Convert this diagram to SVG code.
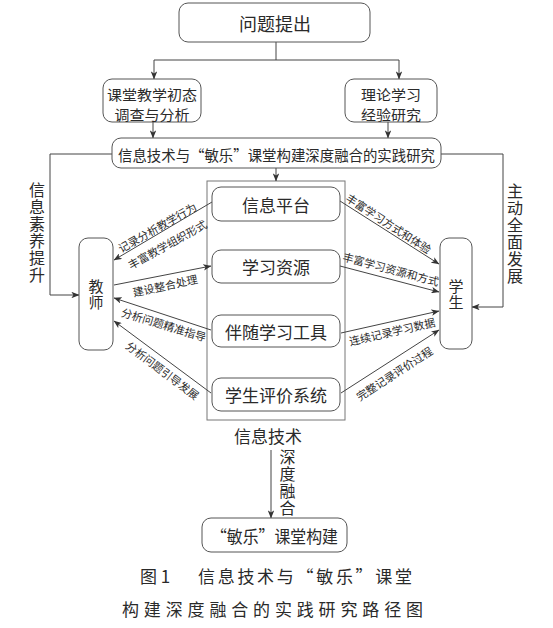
<svg xmlns="http://www.w3.org/2000/svg" width="553" height="628" viewBox="0 0 553 628">
<defs>
<marker id="ah" viewBox="0 0 10 8" refX="9.5" refY="4" markerWidth="8" markerHeight="6.4" markerUnits="userSpaceOnUse" orient="auto">
<path d="M0,0 L10,4 L0,8 L2.5,4 z" fill="#333"/>
</marker>
<style>
text{font-family:"Noto Sans CJK SC","Noto Sans",sans-serif;fill:#2a2a2a;}
.box{fill:#fff;stroke:#555;stroke-width:1;}
.frame{fill:none;stroke:#777;stroke-width:1;}
.ln{fill:none;stroke:#444;stroke-width:1;}
.arr{fill:none;stroke:#444;stroke-width:1;marker-end:url(#ah);}
.c{text-anchor:middle;dominant-baseline:central;}
.v{writing-mode:vertical-rl;text-anchor:start;letter-spacing:1px;}
.lbl{font-size:11px;text-anchor:middle;dominant-baseline:central;}
.cap{font-size:17px;}
</style>
</defs>
<rect width="553" height="628" fill="#fff"/>

<g id="frame"><rect class="frame" x="207" y="181" width="138" height="239"/></g>

<g id="connectors">
<path class="ln" d="M276,42 V60 M154,60 H399"/>
<path class="arr" d="M154,60 V79"/>
<path class="arr" d="M399,60 V79"/>
<path class="arr" d="M153,122 V138"/>
<path class="arr" d="M388,122 V138"/>
<path class="arr" d="M276,168 V181"/>
<path class="arr" d="M112,154 H50 V295 H79"/>
<path class="arr" d="M441,154 H503 V307 H472"/>
<path class="arr" d="M212,202 L114,260"/>
<path class="arr" d="M114,285 L211,266"/>
<path class="arr" d="M211,330 L114,298"/>
<path class="arr" d="M211,393 L114,321"/>
<path class="arr" d="M340,201 L439,264"/>
<path class="arr" d="M340,266 L439,292"/>
<path class="arr" d="M341,333 L439,311"/>
<path class="arr" d="M341,393 L439,330"/>
<path class="arr" d="M271,450 V518"/>
</g>

<g id="n-problem"><rect class="box" x="179" y="3" width="191" height="39" rx="9"/><text class="c" x="275" y="23" font-size="18">问题提出</text></g>
<g id="n-survey"><rect class="box" x="103" y="79" width="98" height="43" rx="9"/><text class="c" x="152" y="93.5" font-size="14" textLength="90" lengthAdjust="spacingAndGlyphs">课堂教学初态</text><text class="c" x="152" y="113.5" font-size="14" textLength="75" lengthAdjust="spacingAndGlyphs">调查与分析</text></g>
<g id="n-theory"><rect class="box" x="345" y="79" width="92" height="43" rx="9"/><text class="c" x="391" y="93.5" font-size="14" textLength="60" lengthAdjust="spacingAndGlyphs">理论学习</text><text class="c" x="391" y="113.5" font-size="14" textLength="60" lengthAdjust="spacingAndGlyphs">经验研究</text></g>
<g id="n-practice"><rect class="box" x="112" y="138" width="329" height="30" rx="9"/><text class="c" x="276.5" y="154" font-size="15" textLength="317" lengthAdjust="spacingAndGlyphs">信息技术与“敏乐”课堂构建深度融合的实践研究</text></g>

<g id="n-platform"><rect class="box" x="212" y="187" width="128" height="34" rx="9"/><text class="c" x="276" y="204" font-size="17">信息平台</text></g>
<g id="n-resource"><rect class="box" x="212" y="250" width="128" height="33" rx="9"/><text class="c" x="276" y="266.5" font-size="17">学习资源</text></g>
<g id="n-tool"><rect class="box" x="212" y="315" width="128" height="32" rx="9"/><text class="c" x="276" y="331" font-size="17">伴随学习工具</text></g>
<g id="n-eval"><rect class="box" x="212" y="378" width="128" height="33" rx="9"/><text class="c" x="276" y="394.5" font-size="17">学生评价系统</text></g>

<g id="n-teacher"><rect class="box" x="79" y="238" width="34" height="112" rx="9"/><text class="v" x="96" y="278.5" font-size="15">教师</text></g>
<g id="n-student"><rect class="box" x="440" y="238" width="32" height="111" rx="9"/><text class="v" x="456" y="278.5" font-size="15">学生</text></g>

<g id="n-classroom"><rect class="box" x="202" y="518" width="145" height="34" rx="9"/><text class="c" x="274.5" y="535" font-size="17" textLength="127" lengthAdjust="spacingAndGlyphs">“敏乐”课堂构建</text></g>

<g id="labels">
<text class="v" x="37" y="182" font-size="16">信息素养提升</text>
<text class="v" x="515" y="183" font-size="16">主动全面发展</text>
<text class="c" x="268" y="435" font-size="17">信息技术</text>
<text class="v" x="287.5" y="449" font-size="16">深度融合</text>

<text class="lbl" transform="translate(157,227) rotate(-29.5)">记录分析教学行为</text>
<text class="lbl" transform="translate(167,244) rotate(-29)">丰富教学组织形式</text>
<text class="lbl" transform="translate(165,285) rotate(-12)">建设整合处理</text>
<text class="lbl" transform="translate(164,324) rotate(17)">分析问题精准指导</text>
<text class="lbl" transform="translate(163,370) rotate(37)">分析问题引导发展</text>
<text class="lbl" transform="translate(389,223) rotate(33)">丰富学习方式和体验</text>
<text class="lbl" transform="translate(391,268.5) rotate(15)">丰富学习资源和方式</text>
<text class="lbl" transform="translate(392,331) rotate(-13)">连续记录学习数据</text>
<text class="lbl" transform="translate(394,373) rotate(-33)">完整记录评价过程</text>
</g>

<g id="caption">
<text class="cap" x="140" y="583">图 1</text>
<text class="cap" x="198" y="583" textLength="214" lengthAdjust="spacing">信息技术与“敏乐”课堂</text>
<text class="cap" x="122" y="616" textLength="301" lengthAdjust="spacing">构建深度融合的实践研究路径图</text>
</g>
</svg>
